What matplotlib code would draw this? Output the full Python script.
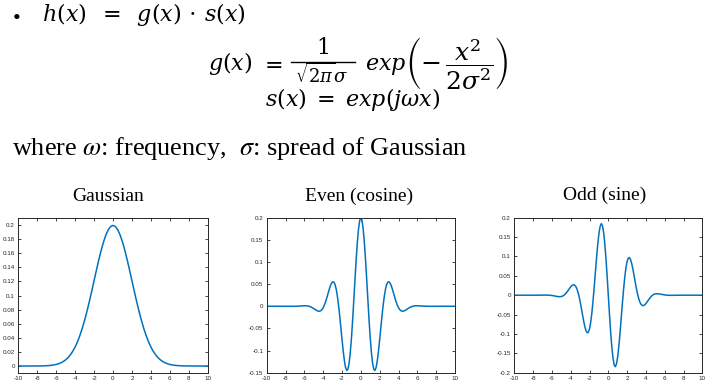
import numpy as np
import matplotlib
matplotlib.use("Agg")
import matplotlib.pyplot as plt
from matplotlib.lines import Line2D

plt.rcParams["mathtext.fontset"] = "dejavuserif"
plt.rcParams["axes.unicode_minus"] = False

W, H = 720, 390

# Gaussian panel: sampled every 0.25 from -10 to 10
x_gauss = np.linspace(-10, 10, 81)
gaussian = [
    0, 0, 0, 0, 0.00001, 0.00001, 0.00002, 0.00004, 0.00007, 0.00011,
    0.00018, 0.00028, 0.00044, 0.00067, 0.00101, 0.00151, 0.00222, 0.00320, 0.00455, 0.00636,
    0.00876, 0.01188, 0.01587, 0.02086, 0.02700, 0.03439, 0.04314, 0.05327, 0.06476, 0.07751,
    0.09132, 0.10594, 0.12098, 0.13603, 0.15057, 0.16408, 0.17603, 0.18593, 0.19333, 0.19792,
    0.19947,
    0.19792, 0.19333, 0.18593, 0.17603, 0.16408, 0.15057, 0.13603, 0.12098, 0.10594, 0.09132,
    0.07751, 0.06476, 0.05327, 0.04314, 0.03439, 0.02700, 0.02086, 0.01587, 0.01188, 0.00876,
    0.00636, 0.00455, 0.00320, 0.00222, 0.00151, 0.00101, 0.00067, 0.00044, 0.00028, 0.00018,
    0.00011, 0.00007, 0.00004, 0.00002, 0.00001, 0.00001, 0, 0, 0, 0,
]

# Even / odd panels: every 0.25 in the tails, every 0.125 between -5 and 5
x_wave = np.concatenate([np.linspace(-10, -5.25, 20),
                         np.linspace(-5, 5, 81),
                         np.linspace(5.25, 10, 20)])

even = [
    # -10 .. -5.25
    0, 0, 0, 0, 0, 0, 0, 0, -0.00003, -0.00005,
    -0.00006, -0.00005, 0.00003, 0.00021, 0.00052, 0.00089, 0.00116, 0.00099, 0.00001, -0.00209,
    # -5 .. -0.125
    -0.00526, -0.00705, -0.00877, -0.01018, -0.01103, -0.01102, -0.00987, -0.00731, -0.00317, 0.00259,
    0.00989, 0.01840, 0.02764, 0.03687, 0.04523, 0.05169, 0.05521, 0.05482, 0.04973, 0.03944,
    0.02387, 0.00344, -0.02091, -0.04779, -0.07512, -0.10085, -0.12255, -0.13792, -0.14498, -0.14227,
    -0.12905, -0.10543, -0.07246, -0.03206, 0.01309, 0.05974, 0.10438, 0.14352, 0.17401, 0.19336,
    # 0
    0.20000,
    # 0.125 .. 5
    0.19336, 0.17401, 0.14352, 0.10438, 0.05974, 0.01309, -0.03206, -0.07246, -0.10543, -0.12905,
    -0.14227, -0.14498, -0.13792, -0.12255, -0.10085, -0.07512, -0.04779, -0.02091, 0.00344, 0.02387,
    0.03944, 0.04973, 0.05482, 0.05521, 0.05169, 0.04523, 0.03687, 0.02764, 0.01840, 0.00989,
    0.00259, -0.00317, -0.00731, -0.00987, -0.01102, -0.01103, -0.01018, -0.00877, -0.00705, -0.00526,
    # 5.25 .. 10
    -0.00209, 0.00001, 0.00099, 0.00116, 0.00089, 0.00052, 0.00021, 0.00003, -0.00005, -0.00006,
    -0.00005, -0.00003, 0, 0, 0, 0, 0, 0, 0, 0,
]

odd = [
    # -10 .. -5.25
    0, 0, 0, 0, 0, 0, 0, 0, -0.00001, 0.00001,
    0.00005, 0.00013, 0.00023, 0.00029, 0.00024, -0.00006, -0.00074, -0.00179, -0.00303, -0.00387,
    # -5 .. -0.125
    -0.00341, -0.00238, -0.00066, 0.00180, 0.00499, 0.00882, 0.01309, 0.01748, 0.02158, 0.02486,
    0.02675, 0.02667, 0.02409, 0.01858, 0.00996, -0.00172, -0.01607, -0.03236, -0.04951, -0.06615,
    -0.08070, -0.09150, -0.09697, -0.09574, -0.08698, -0.07025, -0.04590, -0.01501, 0.02067, 0.05875,
    0.09640, 0.13059, 0.15834, 0.17700, 0.18455, 0.17980, 0.16256, 0.13370, 0.09506, 0.04937,
    # 0
    0,
    # 0.125 .. 5
    -0.04937, -0.09506, -0.13370, -0.16256, -0.17980, -0.18455, -0.17700, -0.15834, -0.13059, -0.09640,
    -0.05875, -0.02067, 0.01501, 0.04590, 0.07025, 0.08698, 0.09574, 0.09697, 0.09150, 0.08070,
    0.06615, 0.04951, 0.03236, 0.01607, 0.00172, -0.00996, -0.01858, -0.02409, -0.02667, -0.02675,
    -0.02486, -0.02158, -0.01748, -0.01309, -0.00882, -0.00499, -0.00180, 0.00066, 0.00238, 0.00341,
    # 5.25 .. 10
    0.00387, 0.00303, 0.00179, 0.00074, 0.00006, -0.00024, -0.00029, -0.00023, -0.00013, -0.00005,
    -0.00001, 0.00001, 0, 0, 0, 0, 0, 0, 0, 0,
]

titles = ["Gaussian", "Even (cosine)", "Odd (sine)"]
xticks = [-10, -8, -6, -4, -2, 0, 2, 4, 6, 8, 10]
yticks_gauss = [0, 0.02, 0.04, 0.06, 0.08, 0.1, 0.12, 0.14, 0.16, 0.18, 0.2]
yticks_even = [-0.15, -0.1, -0.05, 0, 0.05, 0.1, 0.15, 0.2]
yticks_odd = [-0.2, -0.15, -0.1, -0.05, 0, 0.05, 0.1, 0.15, 0.2]


def fx(px):
    return px / W


def fy(py):
    return 1 - py / H


fig = plt.figure(figsize=(W / 100, H / 100), dpi=100)
fig.patch.set_facecolor("white")

# --- slide text (pixel positions from the top-left) ---
EQ = 16
fig.text(fx(17), fy(19.5), "\u2022", fontsize=16, family="Liberation Serif", ha="center", va="center")
fig.text(fx(42), fy(21), r"$h(x)\;\;=\;\;g(x)\,\cdot\,s(x)$", fontsize=EQ, ha="left", va="baseline")

# g(x) = 1/(sqrt(2 pi) sigma) exp(-x^2 / 2 sigma^2), laid out piece by piece
fig.text(fx(208), fy(70), r"$g(x)$", fontsize=EQ, ha="left", va="baseline")
fig.text(fx(271), fy(70), r"$=$", fontsize=EQ, ha="center", va="baseline")
fig.text(fx(323), fy(54), r"$1$", fontsize=EQ, ha="center", va="baseline")
fig.add_artist(Line2D([fx(291), fx(355)], [fy(62), fy(62)], transform=fig.transFigure,
                      lw=1.0, color="black"))
fig.text(fx(322), fy(63), r"$\sqrt{2\pi}\sigma$", fontsize=13, ha="center", va="top")
fig.text(fx(365), fy(70), r"$exp$", fontsize=EQ, ha="left", va="baseline")
fig.text(fx(405), fy(64), r"$\left(-\,\dfrac{x^2}{2\sigma^2}\right)$", fontsize=18,
         ha="left", va="center")

fig.text(fx(265), fy(106), r"$s(x)\;=\;exp(j\omega x)$", fontsize=EQ, ha="left", va="baseline")
fig.text(fx(12), fy(155), r"where $\omega$: frequency,  $\sigma$: spread of Gaussian",
         fontsize=18.9, family="Liberation Serif", math_fontfamily="stix",
         ha="left", va="baseline")

# --- the three panels ---
boxes = [(18.3, 207.7), (266.7, 455.0), (514.3, 702.3)]
top, bottom = 217.7, 372.7
xs = [x_gauss, x_wave, x_wave]
series = [gaussian, even, odd]
yticks = [yticks_gauss, yticks_even, yticks_odd]
ylims = [(-0.0095, 0.2104), (-0.15, 0.2), (-0.2, 0.2)]
title_pos = [(108.3, 196.7), (358.8, 196.7), (604.2, 195.5)]

for i in range(3):
    l, r = boxes[i]
    ax = fig.add_axes([fx(l), fy(bottom), (r - l) / W, (bottom - top) / H])
    ax.plot(xs[i], series[i], color="#0072BD", lw=1.1)
    ax.set_xlim(-10, 10)
    ax.set_ylim(*ylims[i])
    ax.set_xticks(xticks)
    ax.set_xticklabels([f"{v:g}" for v in xticks])
    ax.set_yticks(yticks[i])
    ax.set_yticklabels([f"{v:g}" for v in yticks[i]])
    ax.tick_params(direction="in", top=True, right=True, length=2.2, width=0.6,
                   labelsize=4.5, pad=2.5, colors="#262626")
    for lab in ax.get_xticklabels() + ax.get_yticklabels():
        lab.set_family("Liberation Sans")
    for s in ax.spines.values():
        s.set_linewidth(0.7)
        s.set_color("#262626")
    tx, ty = title_pos[i]
    fig.text(fx(tx), fy(ty), titles[i], fontsize=14, family="Liberation Serif",
             ha="center", va="center")

fig.savefig("out.png", dpi=100)
